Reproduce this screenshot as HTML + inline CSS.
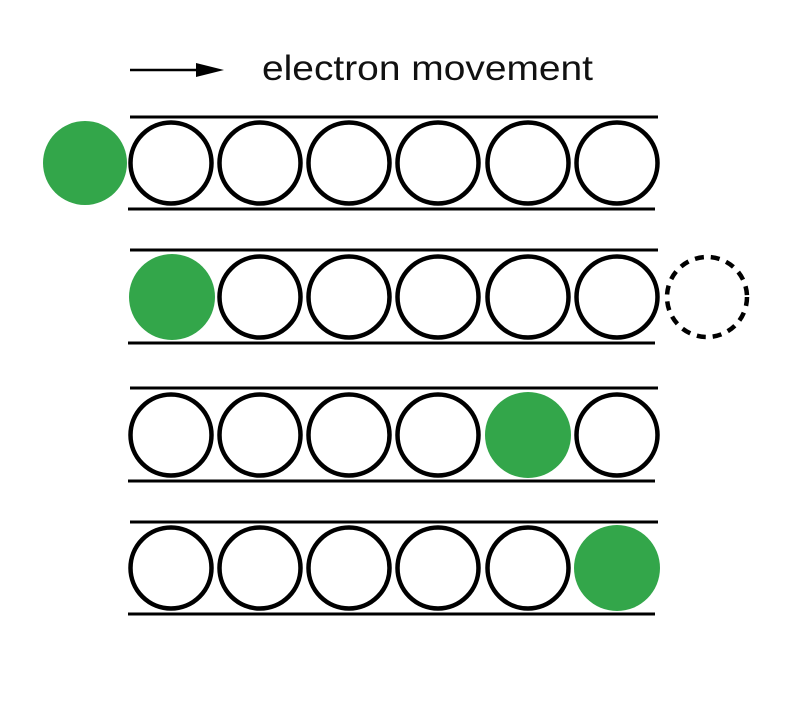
<!DOCTYPE html>
<html><head><style>body{margin:0;background:#fff}</style></head><body>
<svg width="800" height="708" xmlns="http://www.w3.org/2000/svg">
<rect width="800" height="708" fill="#fff"/>
<line x1="130" y1="70" x2="200" y2="70" stroke="#000" stroke-width="2.5"/>
<polygon points="196,63 224,70 196,77" fill="#000"/>
<text x="262" y="80" font-family="Liberation Sans, sans-serif" font-size="35" textLength="331" lengthAdjust="spacingAndGlyphs" fill="#111">electron movement</text>
<g stroke="#000" stroke-width="3">
<line x1="130" y1="117" x2="658" y2="117"/><line x1="128" y1="209" x2="655" y2="209"/>
<line x1="130" y1="250" x2="658" y2="250"/><line x1="128" y1="343" x2="655" y2="343"/>
<line x1="130" y1="388" x2="658" y2="388"/><line x1="128" y1="481" x2="655" y2="481"/>
<line x1="130" y1="522" x2="658" y2="522"/><line x1="128" y1="614" x2="655" y2="614"/>
</g>
<g fill="none" stroke="#000" stroke-width="4.5">
<circle cx="171" cy="163" r="40.5"/><circle cx="260" cy="163" r="40.5"/><circle cx="349" cy="163" r="40.5"/><circle cx="438" cy="163" r="40.5"/><circle cx="528" cy="163" r="40.5"/><circle cx="617" cy="163" r="40.5"/>
<circle cx="260" cy="297" r="40.5"/><circle cx="349" cy="297" r="40.5"/><circle cx="438" cy="297" r="40.5"/><circle cx="528" cy="297" r="40.5"/><circle cx="617" cy="297" r="40.5"/>
<circle cx="171" cy="435" r="40.5"/><circle cx="260" cy="435" r="40.5"/><circle cx="349" cy="435" r="40.5"/><circle cx="438" cy="435" r="40.5"/><circle cx="617" cy="435" r="40.5"/>
<circle cx="171" cy="568" r="40.5"/><circle cx="260" cy="568" r="40.5"/><circle cx="349" cy="568" r="40.5"/><circle cx="438" cy="568" r="40.5"/><circle cx="528" cy="568" r="40.5"/>
<circle cx="707" cy="297" r="40" stroke-dasharray="9,7"/>
</g>
<g fill="#33a64a">
<circle cx="85" cy="163" r="42"/>
<circle cx="172" cy="297" r="43"/>
<circle cx="528" cy="435" r="43"/>
<circle cx="617" cy="568" r="43"/>
</g>
</svg>
</body></html>
